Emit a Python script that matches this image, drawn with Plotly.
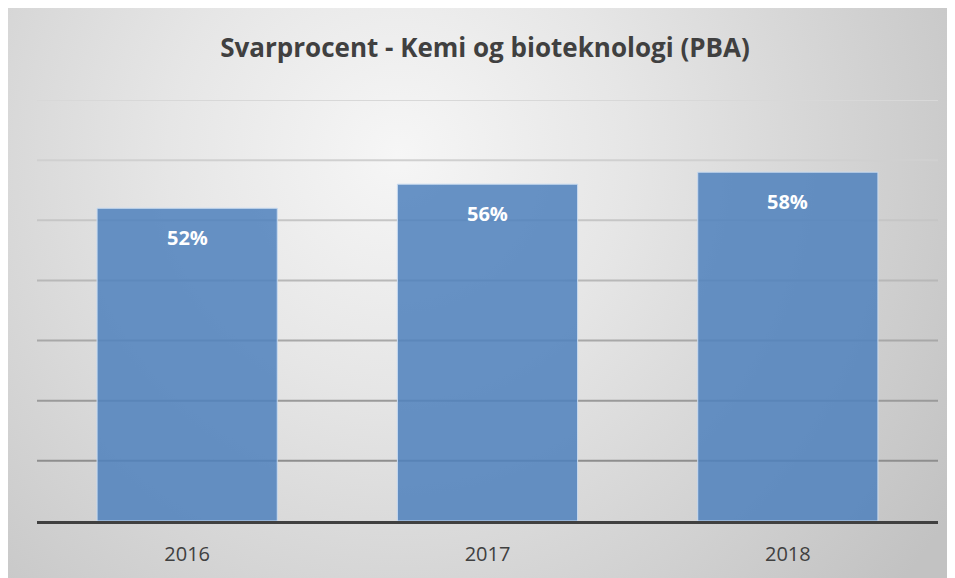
import base64
import plotly.graph_objects as go

# ---- data ----
years = ["2016", "2017", "2018"]
values = [52, 56, 58]
labels = ["52%", "56%", "58%"]
grid_levels = [10, 20, 30, 40, 50, 60, 70]
title_text = "Svarprocent - Kemi og bioteknologi (PBA)"

# ---- layout geometry (page adds an 8px body margin) ----
OFF = 8
W, H = 955 - OFF, 578 - OFF
ML, MR, MT = 37 - OFF, 17, 100 - OFF
MB = H - (521 - OFF)
PW, PH = W - ML - MR, H - MT - MB

# radial gradient background panel (svg data uri)
svg = f'''<svg xmlns="http://www.w3.org/2000/svg" width="{W}" height="{H}" viewBox="0 0 {W} {H}" preserveAspectRatio="none">
<defs><radialGradient id="g" cx="{400-OFF}" cy="{160-OFF}" r="640" gradientUnits="userSpaceOnUse">
<stop offset="0" stop-color="#f6f6f6"/><stop offset="0.35" stop-color="#e6e6e6"/>
<stop offset="1" stop-color="#c2c2c2"/></radialGradient></defs>
<rect x="0" y="0" width="{W}" height="{H}" fill="url(#g)"/>
</svg>'''
src = "data:image/svg+xml;base64," + base64.b64encode(svg.encode()).decode()

grid_colors = ["#8e8e8e", "#9a9a9a", "#a8a8a8", "#b8b8b8", "#c6c6c6", "#d0d0d0", "#d8d8d8"]

fig = go.Figure()
fig.add_trace(go.Bar(
    x=years, y=values, width=0.6,
    marker=dict(color="rgba(79,129,189,0.86)", line=dict(color="#c9dbf0", width=1)),
    textposition="none", hoverinfo="skip",
))

shapes = []
for lvl, col in zip(grid_levels, grid_colors):
    shapes.append(dict(type="line", xref="paper", yref="y", x0=0, x1=1, y0=lvl, y1=lvl,
                       line=dict(color=col, width=2), layer="below"))

annotations = []
for i, (v, lab) in enumerate(zip(values, labels)):
    # category index i on the category axis
    annotations.append(dict(x=i, y=v, xref="x", yref="y", text=lab, showarrow=False,
                            yshift=-29, yanchor="middle",
                            font=dict(family="Open Sans", size=20, color="#ffffff", weight="bold")))

PAD = 12
fig.update_layout(
    width=W, height=H,
    margin=dict(l=ML, r=MR, t=MT, b=MB, autoexpand=False),
    paper_bgcolor="#cdcdcd", plot_bgcolor="rgba(0,0,0,0)",
    title=dict(text=title_text, x=(485 - OFF) / W, xanchor="center", y=1 - (48 - OFF) / H,
               yanchor="middle", xref="container", yref="container",
               font=dict(family="Open Sans", size=26, color="#404040", weight="bold")),
    images=[dict(source=src, xref="paper", yref="paper",
                 x=-(ML + PAD) / PW, y=1 + (MT + PAD) / PH,
                 sizex=(W + 2 * PAD) / PW, sizey=(H + 2 * PAD) / PH,
                 xanchor="left", yanchor="top", sizing="stretch", layer="below")],
    shapes=shapes,
    annotations=annotations,
    showlegend=False,
)
fig.update_xaxes(type="category", range=[-0.5, len(years) - 0.5], showline=True,
                 linecolor="#404040", linewidth=3, automargin=False,
                 showgrid=False, ticks="outside", ticklen=13, tickcolor="rgba(0,0,0,0)",
                 tickfont=dict(family="Open Sans", size=20, color="#404040"))
fig.update_yaxes(range=[0, 70], showgrid=False, showticklabels=False, zeroline=False,
                 fixedrange=True, automargin=False)

fig.write_html("out.html")
